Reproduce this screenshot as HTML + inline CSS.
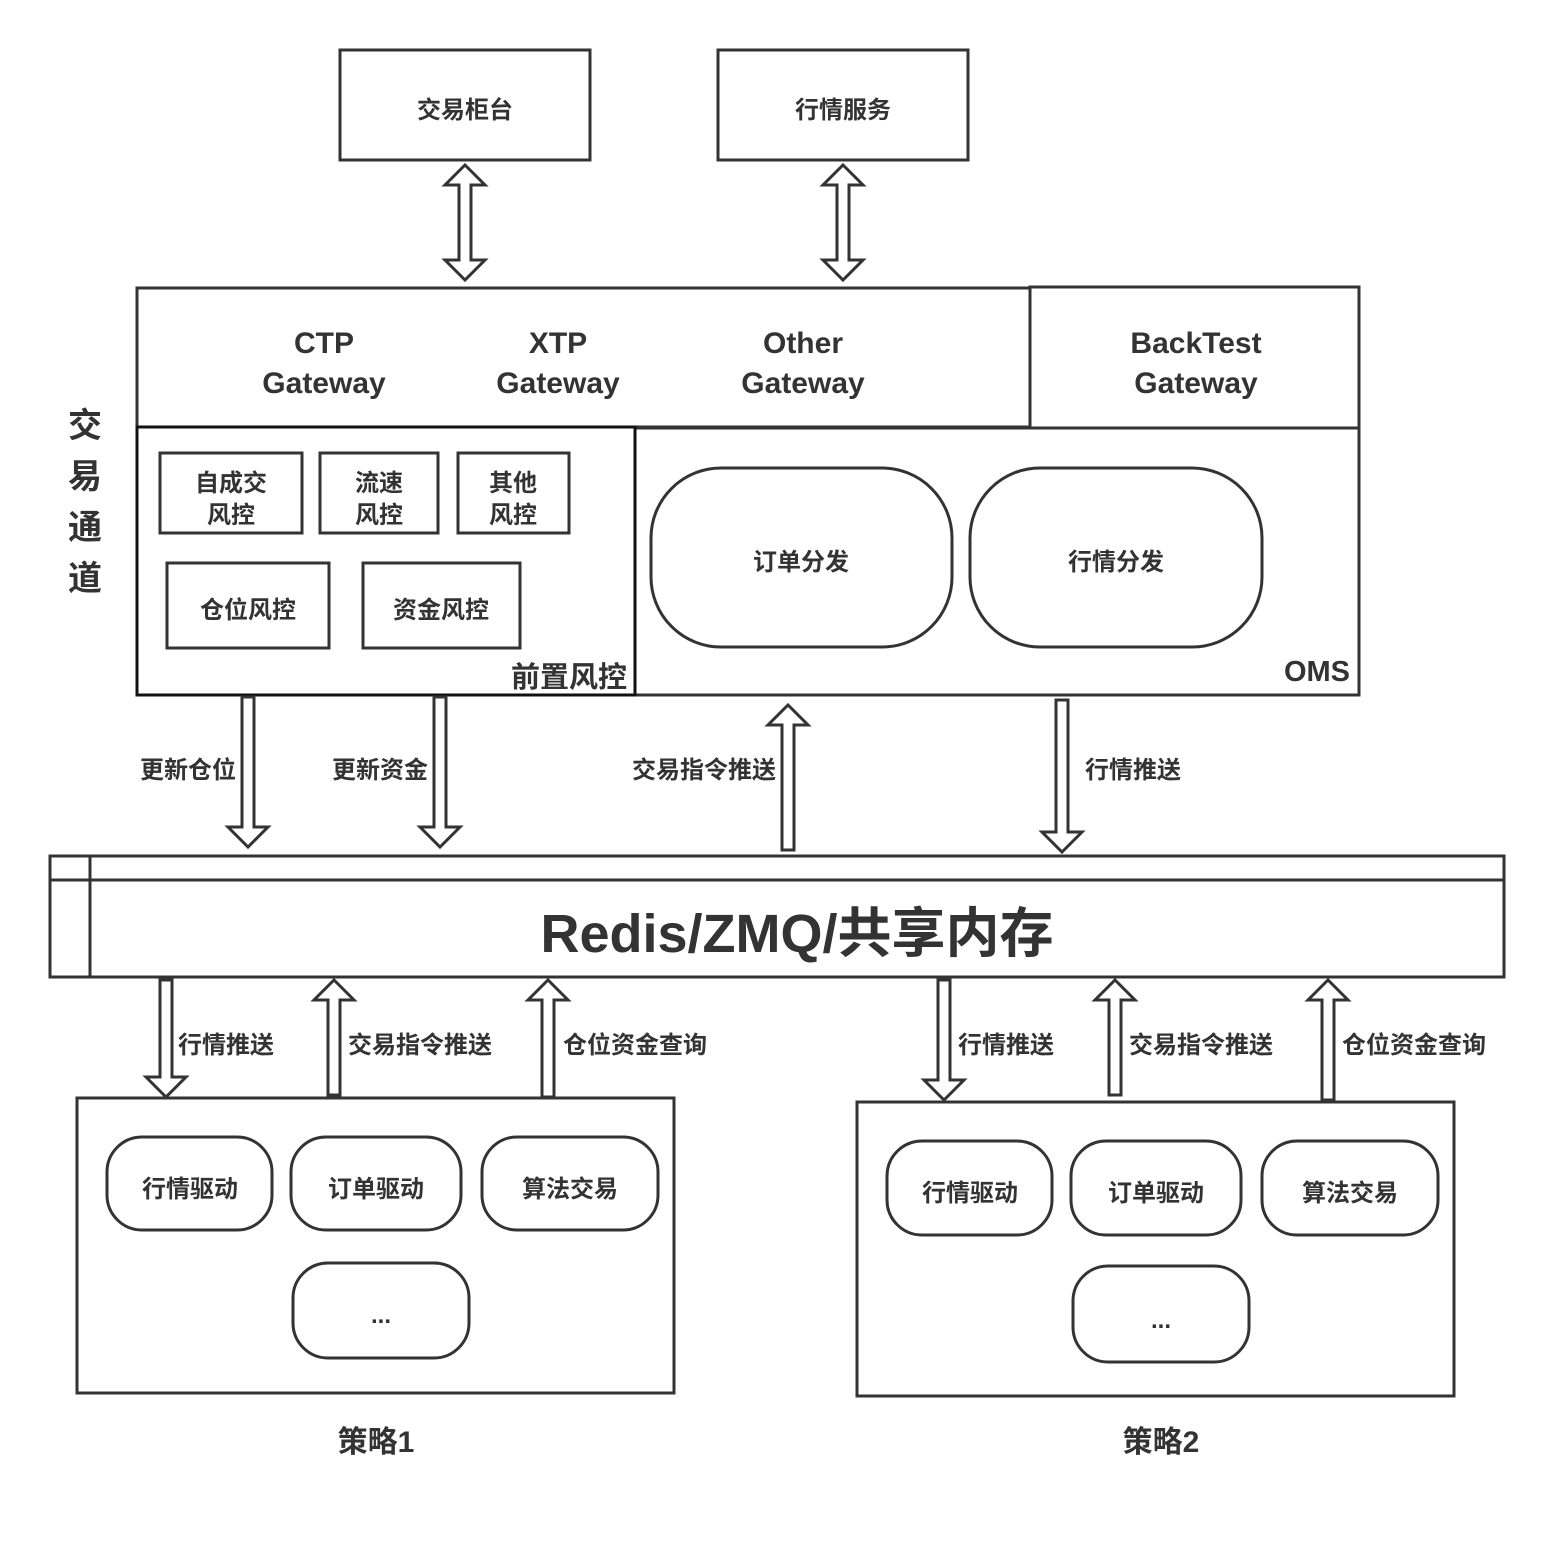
<!DOCTYPE html>
<html><head><meta charset="utf-8"><style>
html,body{margin:0;padding:0;background:#fff;}
svg text{font-family:"Liberation Sans","Noto Sans CJK SC",sans-serif;font-weight:bold;fill:#333;}
</style></head><body>
<svg width="1564" height="1538" viewBox="0 0 1564 1538" xmlns="http://www.w3.org/2000/svg">
<g fill="#fff" stroke="#333" stroke-width="3">
<rect x="340" y="50" width="250" height="110"/>
<rect x="718" y="50" width="250" height="110"/>
<polygon points="465,165 485,185 471,185 471,260 485,260 465,280 445,260 459,260 459,185 445,185"/>
<polygon points="843,165 863,185 849,185 849,260 863,260 843,280 823,260 837,260 837,185 823,185"/>
<rect x="137" y="288" width="893" height="139"/>
<rect x="1030" y="287" width="329" height="141"/>
<rect x="635" y="428" width="724" height="267"/>
<rect x="137" y="427" width="498" height="268" stroke="#111"/>
<rect x="160" y="453" width="142" height="80"/>
<rect x="320" y="453" width="118" height="80"/>
<rect x="458" y="453" width="111" height="80"/>
<rect x="167" y="563" width="162" height="85"/>
<rect x="363" y="563" width="157" height="85"/>
<rect x="651" y="468" width="301" height="179" rx="70" ry="70"/>
<rect x="970" y="468" width="292" height="179" rx="70" ry="70"/>
<polygon points="242,697 254,697 254,827 268,827 248,847 228,827 242,827"/>
<polygon points="434,697 446,697 446,827 460,827 440,847 420,827 434,827"/>
<polygon points="782,850 794,850 794,725 808,725 788,705 768,725 782,725"/>
<polygon points="1056,700 1068,700 1068,832 1082,832 1062,852 1042,832 1056,832"/>
<rect x="50" y="856" width="1454" height="121"/>
<line x1="50" y1="880" x2="1504" y2="880"/>
<line x1="90" y1="856" x2="90" y2="977"/>
<polygon points="160,980 172,980 172,1077 186,1077 166,1097 146,1077 160,1077"/>
<polygon points="328,1095 340,1095 340,1000 354,1000 334,980 314,1000 328,1000"/>
<polygon points="542,1097 554,1097 554,1000 568,1000 548,980 528,1000 542,1000"/>
<polygon points="938,980 950,980 950,1080 964,1080 944,1100 924,1080 938,1080"/>
<polygon points="1109,1095 1121,1095 1121,1000 1135,1000 1115,980 1095,1000 1109,1000"/>
<polygon points="1322,1100 1334,1100 1334,1000 1348,1000 1328,980 1308,1000 1322,1000"/>
<rect x="77" y="1098" width="597" height="295"/>
<rect x="107" y="1137" width="165" height="93" rx="35"/>
<rect x="291" y="1137" width="170" height="93" rx="35"/>
<rect x="482" y="1137" width="176" height="93" rx="35"/>
<rect x="293" y="1263" width="176" height="95" rx="35"/>
<rect x="857" y="1102" width="597" height="294"/>
<rect x="887" y="1141" width="165" height="94" rx="35"/>
<rect x="1071" y="1141" width="170" height="94" rx="35"/>
<rect x="1262" y="1141" width="176" height="94" rx="35"/>
<rect x="1073" y="1266" width="176" height="96" rx="35"/>
</g>
<g font-size="24" text-anchor="middle">
<text x="465" y="118">交易柜台</text>
<text x="843" y="118">行情服务</text>
<text x="231" y="491">自成交</text><text x="231" y="523">风控</text>
<text x="379" y="491">流速</text><text x="379" y="523">风控</text>
<text x="513" y="491">其他</text><text x="513" y="523">风控</text>
<text x="248" y="618">仓位风控</text>
<text x="441" y="618">资金风控</text>
<text x="801" y="570">订单分发</text>
<text x="1116" y="570">行情分发</text>
<text x="190" y="1197">行情驱动</text>
<text x="376" y="1197">订单驱动</text>
<text x="570" y="1197">算法交易</text>
<text x="381" y="1323">...</text>
<text x="970" y="1201">行情驱动</text>
<text x="1156" y="1201">订单驱动</text>
<text x="1350" y="1201">算法交易</text>
<text x="1161" y="1328">...</text>
</g>
<g font-size="30" text-anchor="middle">
<text x="324" y="353">CTP</text><text x="324" y="393">Gateway</text>
<text x="558" y="353">XTP</text><text x="558" y="393">Gateway</text>
<text x="803" y="353">Other</text><text x="803" y="393">Gateway</text>
<text x="1196" y="353">BackTest</text><text x="1196" y="393">Gateway</text>
<text x="376" y="1452">策略1</text>
<text x="1161" y="1452">策略2</text>
</g>
<g font-size="29">
<text x="627" y="687" text-anchor="end">前置风控</text>
<text x="1350" y="681" text-anchor="end">OMS</text>
</g>
<g font-size="34" text-anchor="middle">
<text x="85" y="437">交</text><text x="85" y="488">易</text><text x="85" y="539">通</text><text x="85" y="590">道</text>
</g>
<text x="797" y="952" font-size="54" text-anchor="middle">Redis/ZMQ/共享内存</text>
<g font-size="24">
<text x="236" y="778" text-anchor="end">更新仓位</text>
<text x="428" y="778" text-anchor="end">更新资金</text>
<text x="776" y="778" text-anchor="end">交易指令推送</text>
<text x="1085" y="778">行情推送</text>
<text x="178" y="1053">行情推送</text>
<text x="348" y="1053">交易指令推送</text>
<text x="563" y="1053">仓位资金查询</text>
<text x="958" y="1053">行情推送</text>
<text x="1129" y="1053">交易指令推送</text>
<text x="1342" y="1053">仓位资金查询</text>
</g>
</svg>
</body></html>
